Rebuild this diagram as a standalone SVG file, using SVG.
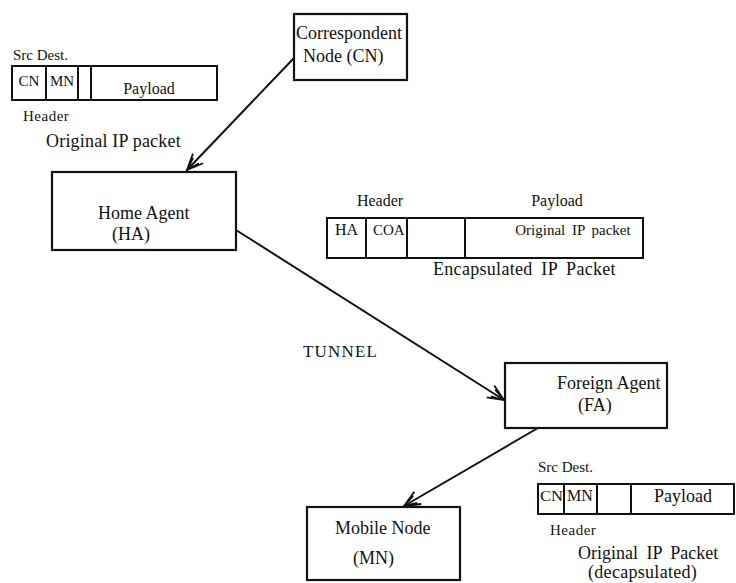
<svg xmlns="http://www.w3.org/2000/svg" width="736" height="583" viewBox="0 0 736 583">
<defs>
<style>
.box{fill:#fff;stroke:#111;stroke-width:2.2}
.cell{fill:none;stroke:#111;stroke-width:2}
.conn{stroke:#111;stroke-width:2;fill:none}
.s15{font-size:15px}
.s16{font-size:16px}
.s17{font-size:17px}
.s18{font-size:18px}
</style>
<marker id="arr" viewBox="0 0 20 20" refX="18" refY="10" markerWidth="20" markerHeight="20" markerUnits="userSpaceOnUse" orient="auto">
<path d="M2,3 L18,10 L2,17 M5,6 L18,10 L5,14" fill="none" stroke="#111" stroke-width="1.8"/>
</marker>
</defs>
<rect width="736" height="583" fill="#fff"/>

<g id="connectors">
<line class="conn" x1="294" y1="58" x2="187" y2="170" marker-end="url(#arr)"/>
<line class="conn" x1="236" y1="230" x2="504" y2="400" marker-end="url(#arr)"/>
<line class="conn" x1="538" y1="428" x2="404" y2="506" marker-end="url(#arr)"/>
</g>

<g font-family="Liberation Serif, Times New Roman, serif" fill="#111">
<g id="cn">
<rect class="box" x="294" y="14" width="113" height="66"/>
<text class="s18" x="296" y="39">Correspondent</text>
<text class="s18" x="303" y="62">Node (CN)</text>
</g>

<g id="packet-original">
<text class="s15" x="13" y="60">Src Dest.</text>
<rect class="cell" x="12" y="66" width="205" height="34"/>
<line class="cell" x1="46" y1="66" x2="46" y2="100"/>
<line class="cell" x1="78" y1="66" x2="78" y2="100"/>
<line class="cell" x1="91" y1="66" x2="91" y2="100"/>
<text class="s15" x="29" y="86" text-anchor="middle">CN</text>
<text class="s15" x="62" y="86" text-anchor="middle">MN</text>
<text class="s16" x="149" y="94" text-anchor="middle">Payload</text>
<text class="s15" x="23" y="121" letter-spacing="0.5">Header</text>
<text class="s18" x="46" y="147" letter-spacing="0.2">Original IP packet</text>
</g>

<g id="ha">
<rect class="box" x="52" y="172" width="184" height="78"/>
<text class="s18" x="98" y="219">Home Agent</text>
<text class="s18" x="112" y="240">(HA)</text>
</g>

<g id="packet-encapsulated">
<text class="s16" x="380" y="206" text-anchor="middle">Header</text>
<text class="s16" x="557" y="206" text-anchor="middle">Payload</text>
<rect class="cell" x="327" y="218" width="316" height="40"/>
<line class="cell" x1="366" y1="218" x2="366" y2="258"/>
<line class="cell" x1="407" y1="218" x2="407" y2="258"/>
<line class="cell" x1="465" y1="218" x2="465" y2="258"/>
<text class="s16" x="335" y="235">HA</text>
<text class="s15" x="373" y="235">COA</text>
<text class="s15" x="573" y="235" text-anchor="middle" word-spacing="3">Original IP packet</text>
<text class="s18" x="433" y="275" word-spacing="4" letter-spacing="0.3">Encapsulated IP Packet</text>
</g>

<text class="s17" x="303" y="357" letter-spacing="1.2">TUNNEL</text>

<g id="fa">
<rect class="box" x="505" y="363" width="162" height="65"/>
<text class="s18" x="557" y="389">Foreign Agent</text>
<text class="s18" x="578" y="411">(FA)</text>
</g>

<g id="mn">
<rect class="box" x="307" y="507" width="153" height="73"/>
<text class="s18" x="335" y="534">Mobile Node</text>
<text class="s18" x="353" y="564">(MN)</text>
</g>

<g id="packet-decapsulated">
<text class="s15" x="538" y="472">Src Dest.</text>
<rect class="cell" x="538" y="484" width="196" height="30"/>
<line class="cell" x1="564" y1="484" x2="564" y2="514"/>
<line class="cell" x1="597" y1="484" x2="597" y2="514"/>
<line class="cell" x1="631" y1="484" x2="631" y2="514"/>
<text class="s15" x="540" y="501" textLength="23" lengthAdjust="spacingAndGlyphs">CN</text>
<text class="s16" x="567" y="501">MN</text>
<text class="s18" x="683" y="502" text-anchor="middle">Payload</text>
<text class="s15" x="550" y="535" letter-spacing="0.5">Header</text>
<text class="s18" x="578" y="559" word-spacing="4">Original IP Packet</text>
<text class="s18" x="588" y="578" letter-spacing="0.3">(decapsulated)</text>
</g>
</g>
</svg>
